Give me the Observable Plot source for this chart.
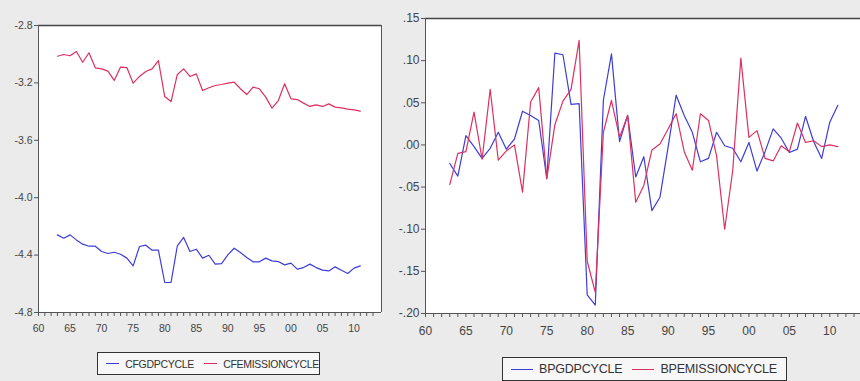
<!DOCTYPE html>
<html><head><meta charset="utf-8">
<script src="https://cdn.jsdelivr.net/npm/d3@7"></script>
<script src="https://cdn.jsdelivr.net/npm/@observablehq/plot@0.6"></script>
<style>
html,body{margin:0;padding:0;background:#ebebeb;width:860px;height:381px;overflow:hidden;font-family:"Liberation Sans",Arial,sans-serif;}
#left{position:absolute;left:0;top:0;}
#right{position:absolute;left:390px;top:0;}
.legend{position:absolute;box-sizing:border-box;border:1px solid #333;background:#f7f7f7;display:flex;align-items:center;color:#333;white-space:nowrap;}
.sw{display:inline-block;width:22px;height:0;border-top:1.4px solid;margin:0 6px 0 8px;}
</style></head><body>
<div id="left"></div><div id="right"></div>
<div class="legend" id="legL" style="left:97px;top:352px;width:223px;height:23px;font-size:10.5px;letter-spacing:-0.3px"></div>
<div class="legend" id="legR" style="left:502px;top:357px;width:285px;height:24px;font-size:12.5px;letter-spacing:-0.2px"></div>
<script>
const years = [1963,1964,1965,1966,1967,1968,1969,1970,1971,1972,1973,1974,1975,1976,1977,1978,1979,1980,1981,1982,1983,1984,1985,1986,1987,1988,1989,1990,1991,1992,1993,1994,1995,1996,1997,1998,1999,2000,2001,2002,2003,2004,2005,2006,2007,2008,2009,2010,2011];

const cfGdpCycle = [-4.259,-4.282,-4.259,-4.294,-4.324,-4.338,-4.338,-4.375,-4.389,-4.380,
  -4.394,-4.421,-4.475,-4.340,-4.331,-4.366,-4.366,-4.591,-4.591,-4.335,
  -4.277,-4.375,-4.359,-4.421,-4.401,-4.463,-4.459,-4.398,-4.352,-4.382,
  -4.417,-4.447,-4.447,-4.421,-4.440,-4.445,-4.468,-4.456,-4.498,-4.487,
  -4.463,-4.487,-4.505,-4.510,-4.482,-4.505,-4.528,-4.491,-4.475];
const cfEmissionCycle = [-3.014,-3.002,-3.011,-2.981,-3.056,-2.990,-3.095,-3.102,-3.118,-3.183,
  -3.090,-3.093,-3.202,-3.155,-3.121,-3.102,-3.044,-3.295,-3.330,-3.141,
  -3.102,-3.155,-3.137,-3.253,-3.234,-3.218,-3.211,-3.202,-3.195,-3.241,
  -3.281,-3.230,-3.241,-3.299,-3.376,-3.323,-3.206,-3.311,-3.316,-3.341,
  -3.364,-3.353,-3.364,-3.346,-3.369,-3.374,-3.383,-3.388,-3.397];
const bpGdpCycle = [-0.022,-0.037,0.011,-0.002,-0.016,-0.004,0.015,-0.005,0.007,0.040,
  0.035,0.029,-0.040,0.109,0.107,0.048,0.049,-0.178,-0.190,0.053,
  0.108,0.004,0.035,-0.038,-0.014,-0.078,-0.062,-0.003,0.059,0.035,
  0.015,-0.020,-0.016,0.015,-0.001,-0.004,-0.020,0.003,-0.031,-0.008,
  0.019,0.008,-0.009,-0.005,0.034,0.004,-0.016,0.027,0.047];
const bpEmissionCycle = [-0.047,-0.010,-0.008,0.039,-0.017,0.066,-0.018,-0.007,0.000,-0.056,
  0.051,0.068,-0.040,0.024,0.052,0.066,0.124,-0.138,-0.175,0.015,
  0.053,0.009,0.035,-0.068,-0.048,-0.006,0.001,0.019,0.037,-0.008,
  -0.030,0.037,0.029,-0.013,-0.100,-0.030,0.103,0.009,0.017,-0.016,
  -0.019,-0.001,-0.008,0.026,0.003,0.005,-0.002,0.000,-0.002];

const minorYears = [1960,1961,1962,1963,1964,1965,1966,1967,1968,1969,1970,1971,1972,1973,1974,1975,1976,1977,1978,1979,1980,1981,1982,1983,1984,1985,1986,1987,1988,1989,1990,1991,1992,1993,1994,1995,1996,1997,1998,1999,2000,2001,2002,2003,2004,2005,2006,2007,2008,2009,2010,2011,2012,2013];
const majorYears = [1960,1965,1970,1975,1980,1985,1990,1995,2000,2005,2010];
const majorLabels = ["60","65","70","75","80","85","90","95","00","05","10"];
const leftYTicks = [-2.8,-3.2,-3.6,-4.0,-4.4,-4.8];
const leftYLabels = ["-2.8","-3.2","-3.6","-4.0","-4.4","-4.8"];
const rightYTicks = [0.15,0.10,0.05,0.00,-0.05,-0.10,-0.15,-0.20];
const rightYLabels = [".15",".10",".05",".00","-.05","-.10","-.15","-.20"];

const leftSeries = ["CFGDPCYCLE","CFEMISSIONCYCLE"];
const rightSeries = ["BPGDPCYCLE","BPEMISSIONCYCLE"];
const BLUE = "#3d3dd8", RED = "#dc3060";

const xLab = d => { const i = majorYears.indexOf(d); return i >= 0 ? majorLabels[i] : ""; };
const yLab = (ticks, labels) => d => { const i = ticks.findIndex(t => Math.abs(t - d) < 1e-9); return i >= 0 ? labels[i] : ""; };

function panel(o) {
  const rows = [];
  years.forEach((y, i) => {
    rows.push({year: y, value: o.a[i], s: o.names[0]});
    rows.push({year: y, value: o.b[i], s: o.names[1]});
  });
  const marks = [
    Plot.frame({fill: "white", stroke: null}),
    Plot.lineY(rows, {x: "year", y: "value", z: "s", stroke: "s", strokeWidth: 1.2}),
    Plot.ruleY([o.yDomain[1]], {stroke: "#444", strokeWidth: 1.6}),
    Plot.ruleY([o.yDomain[0]], {stroke: "#555", strokeWidth: 1}),
    Plot.ruleX([o.xDomain[0]], {stroke: "#555", strokeWidth: 1})
  ];
  if (o.rightFrame) marks.push(Plot.ruleX([o.xDomain[1]], {stroke: "#555", strokeWidth: 1}));
  marks.push(
    Plot.axisX({ticks: minorYears, tickFormat: xLab, tickSize: 4, tickPadding: o.xPad, stroke: "#555", fill: "#444", fontSize: o.fs, label: null}),
    Plot.axisY({ticks: o.yTicks, tickFormat: yLab(o.yTicks, o.yLabels), tickSize: 4, tickPadding: 2, stroke: "#555", fill: "#444", fontSize: o.fs, label: null})
  );
  return Plot.plot({
    width: o.width, height: o.height,
    marginLeft: o.mL, marginRight: o.mR, marginTop: o.mT, marginBottom: o.mB,
    style: {background: "transparent", fontFamily: "'Liberation Sans',Arial,sans-serif", fontSize: o.fs + "px", color: "#444"},
    x: {domain: o.xDomain},
    y: {domain: o.yDomain},
    color: {domain: o.names, range: [BLUE, RED]},
    marks
  });
}

document.getElementById("left").append(panel({
  a: cfGdpCycle, b: cfEmissionCycle, names: leftSeries,
  width: 400, height: 340, mL: 38, mR: 19, mT: 25, mB: 28,
  xDomain: [1960, 2014.35], yDomain: [-4.8, -2.8], yTicks: leftYTicks, yLabels: leftYLabels,
  fs: 10.5, xPad: 8, rightFrame: true
}));
document.getElementById("right").append(panel({
  a: bpGdpCycle, b: bpEmissionCycle, names: rightSeries,
  width: 470, height: 340, mL: 35, mR: 0, mT: 18, mB: 27,
  xDomain: [1960, 2013.8], yDomain: [-0.20, 0.15], yTicks: rightYTicks, yLabels: rightYLabels,
  fs: 12, xPad: 9, rightFrame: false
}));

function legend(id, names) {
  const el = document.getElementById(id);
  names.forEach((n, i) => {
    const sw = document.createElement("span");
    sw.className = "sw";
    sw.style.borderTopColor = i === 0 ? BLUE : RED;
    if (i > 0) sw.style.marginLeft = "10px";
    const t = document.createElement("span");
    t.textContent = n;
    el.append(sw, t);
  });
}
legend("legL", leftSeries);
legend("legR", rightSeries);
</script>
</body></html>
